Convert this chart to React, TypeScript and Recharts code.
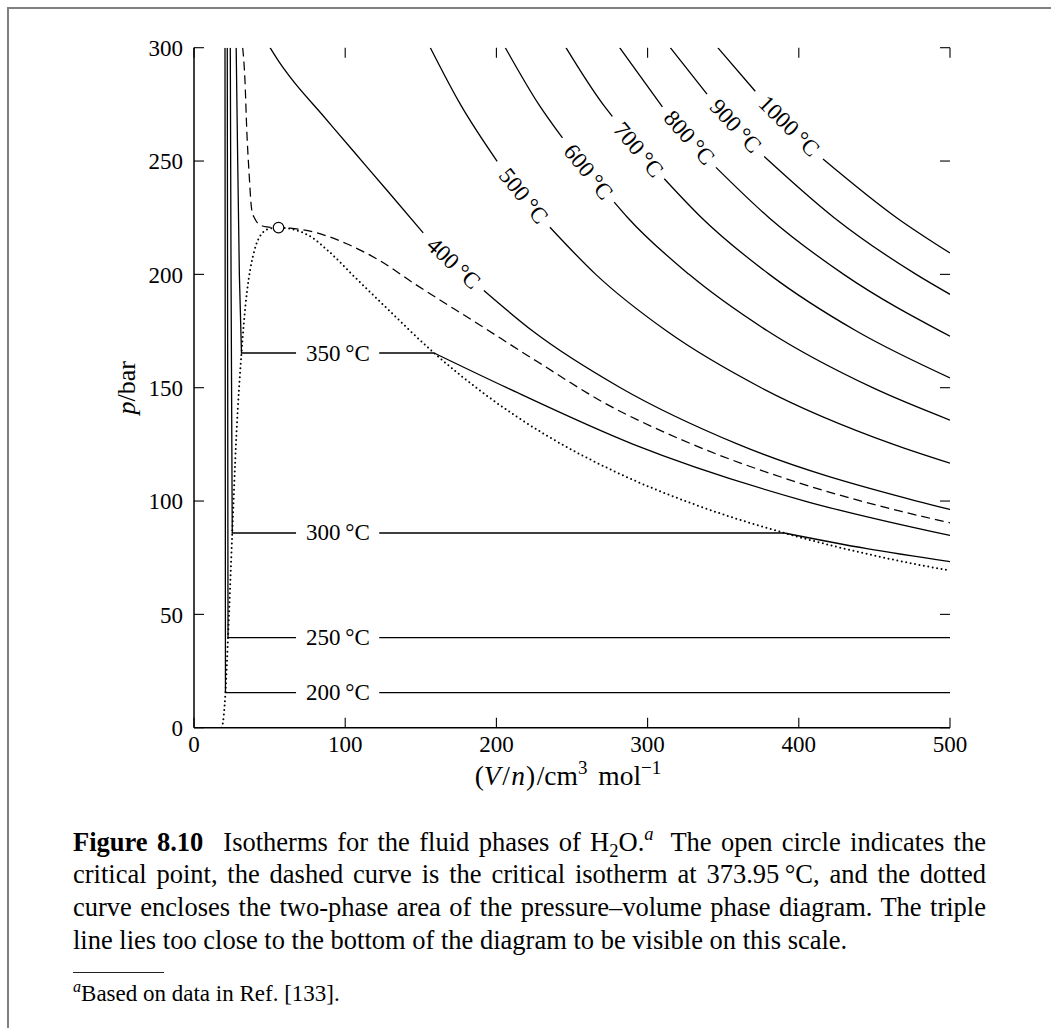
import React from 'react';
import { LineChart, Line, XAxis, YAxis, ReferenceDot } from 'recharts';

type Pt = [number, number | null];

const FONT = '"Liberation Serif", "Times New Roman", Times, serif';

// axes
const volumeTicks = [0, 100, 200, 300, 400, 500];
const pressureTicks = [0, 50, 100, 150, 200, 250, 300];

// [V/(cm3/mol), p/bar]; a null point leaves the gap where the label sits
// subcritical isotherms: compressed liquid + two-phase plateau
const iso200: Pt[] = [[20.5, 300], [20.8, 15.5], [67.5, 15.5], [95, null], [122.5, 15.5], [500, 15.5]];
const iso250: Pt[] = [[22.0, 300], [22.5, 39.7], [67.5, 39.7], [95, null], [122.5, 39.7], [500, 39.7]];
const iso300: Pt[] = [[24.0, 300], [24.5, 200], [25.3, 85.9], [67.5, 85.9], [95, null], [122.5, 85.9], [390.4, 85.9]];
const iso350: Pt[] = [[27.9, 300], [28.9, 250], [30.0, 200], [31.4, 165.3], [67.5, 165.3], [95, null], [122.5, 165.3], [158.8, 165.3]];
// superheated vapour branches
const iso300Vap: Pt[] = [[390.4, 85.9], [445, 79], [500, 73.3]];
const iso350Vap: Pt[] = [[158.8, 165.3], [206.8, 150], [290.6, 125], [404, 100], [500, 84.8]];

// critical isotherm, 373.95 C
const isoCrit: Pt[] = [
  [32.2, 300], [33.7, 285.7], [34.9, 263.7], [36.4, 245], [38.2, 228.4], [40.2, 224.6], [42.6, 222.3],
  [48.1, 220.9], [55.9, 220.64], [63.6, 220.4], [79, 218.7], [101, 213.5], [123, 206], [145.5, 196],
  [188.2, 178], [227.5, 161.3], [272.2, 143], [321.9, 127.2], [401.1, 107.8], [468.5, 95.3], [500, 90.4],
];

// supercritical isotherms
const iso400: Pt[] = [[50.3, 300], [56.5, 293.5], [63.6, 287], [85, 270.3], [105.5, 254.3], [127.6, 237.1], [151.6, 218.3], [171.7, null], [191.7, 192.9], [224, 175], [282, 150], [360, 125], [478, 100], [500, 96.3]];
const iso500: Pt[] = [[156.3, 300], [176.2, 275], [200.5, 249.9], [218, null], [235.4, 220.8], [265.7, 200], [312.6, 175], [375.1, 150], [462.6, 125], [500, 116.7]];
const iso600: Pt[] = [[205.9, 300], [228, 275], [243.7, 260.2], [260.8, null], [277.9, 231.9], [286.9, 225], [327.4, 200], [379.4, 175], [448.8, 150], [500, 135.7]];
const iso700: Pt[] = [[246, 300], [270.5, 275], [276.7, 269.7], [293.9, null], [311, 242.2], [335.7, 225], [380.5, 200], [438.1, 175], [500, 154.3]];
const iso800: Pt[] = [[281.5, 300], [309.8, 273.9], [327.5, null], [345.2, 247.2], [380.3, 225], [429.7, 200], [500, 172.7]];
const iso900: Pt[] = [[315, 300], [339.3, 279.5], [358.2, null], [377.1, 252], [423.4, 225], [477.6, 200], [500, 191.2]];
const iso1000: Pt[] = [[346.4, 300], [371.2, 280.8], [393.6, null], [416, 250.9], [464.7, 225], [500, 209.4]];

// boundary of the two-phase region (saturated liquid -> critical point -> saturated vapour)
const coexistence: Pt[] = [
  [18.2, 0], [18.8, 1], [19.6, 4.8], [20.8, 15.5], [22.5, 39.7], [25.3, 85.9], [28.0, 128.6], [31.4, 165.3],
  [34.1, 186.7], [36.2, 198.1], [39.9, 210.4], [44.8, 217.9], [50.3, 220.2], [55.9, 220.64], [68, 219.4],
  [78, 216.3], [88.7, 210.4], [106, 199], [125, 186.7], [158.8, 165.3], [194.6, 146], [234, 128.6],
  [279, 112.8], [330.6, 98.6], [390.4, 85.9], [460.6, 74.4], [500, 69.3],
];

const criticalPoint = { v: 55.9, p: 220.64 };

// isotherm labels (temperature in C) at the middle of each gap
const isoLabels = [
  { t: 200, v: 95.2, p: 15.5 },
  { t: 250, v: 95.2, p: 39.7 },
  { t: 300, v: 95.2, p: 85.9 },
  { t: 350, v: 95.2, p: 165.3 },
  { t: 400, v: 171.7, p: 204.9 },
  { t: 500, v: 218, p: 234.6 },
  { t: 600, v: 260.8, p: 245.2 },
  { t: 700, v: 293.9, p: 255.0 },
  { t: 800, v: 327.5, p: 260.3 },
  { t: 900, v: 358.2, p: 265.4 },
  { t: 1000, v: 393.6, p: 265.4 },
];
// label rotation in degrees, following the curve on screen
const labelAngle: Record<number, number> = { 400: 43.3, 500: 51.3, 600: 51.1, 700: 50.2, 800: 48.5, 900: 47.5, 1000: 45 };

// plot geometry (px)
const PLOT_W = 756;
const PLOT_H = 680;
const TICK = 10;
const X_LABEL_GAP = 8.3;
const Y_LABEL_GAP = 11;

const rows = (pts: Pt[]) => pts.map(([v, p]) => ({ v, p }));

function curve(key: string, pts: Pt[], type: 'linear' | 'monotone', style: 'solid' | 'dash' | 'dot' = 'solid') {
  return (
    <Line
      key={key}
      data={rows(pts)}
      dataKey="p"
      type={type}
      stroke="#000"
      strokeWidth={style === 'dot' ? 2 : style === 'dash' ? 1.25 : 1.3}
      strokeDasharray={style === 'dot' ? '0 4.5' : style === 'dash' ? '9 5' : undefined}
      strokeLinecap={style === 'dot' ? 'round' : 'butt'}
      dot={false}
      activeDot={false}
      connectNulls={false}
      legendType="none"
      isAnimationActive={false}
    />
  );
}

// bottom tick: inward mark on the bottom and top frame + the number
function VolumeTick({ x, y, payload }: any) {
  const base = y - X_LABEL_GAP;
  const top = base - PLOT_H;
  return (
    <g>
      <line x1={x} x2={x} y1={base - TICK} y2={base} stroke="#000" strokeWidth={1.1} />
      <line x1={x} x2={x} y1={top} y2={top + TICK} stroke="#000" strokeWidth={1.1} />
      <text x={x} y={y} dy="0.71em" textAnchor="middle" fontFamily={FONT} fontSize={23} fill="#000">
        {payload.value}
      </text>
    </g>
  );
}

// left tick: inward mark on the left and right frame + the number
function PressureTick({ x, y, payload }: any) {
  const left = x + Y_LABEL_GAP;
  const right = left + PLOT_W;
  return (
    <g>
      <line x1={left} x2={left + TICK} y1={y} y2={y} stroke="#000" strokeWidth={1.1} />
      <line x1={right - TICK} x2={right} y1={y} y2={y} stroke="#000" strokeWidth={1.1} />
      <text x={x} y={y} dy="0.355em" textAnchor="end" fontFamily={FONT} fontSize={23} fill="#000">
        {payload.value}
      </text>
    </g>
  );
}

function XTitle({ viewBox }: any) {
  const vb = viewBox ?? { x: 185, y: 718.7, width: 756, height: 60 };
  const x = vb.x + vb.width / 2 - 4;
  const y = vb.y + 57;
  return (
    <text x={x} y={y} textAnchor="middle" fontFamily={FONT} fontSize={27.5} fill="#000">
      (<tspan fontStyle="italic">V</tspan>
      <tspan dx={1.5}>/</tspan>
      <tspan dx={1.5} fontStyle="italic">n</tspan>
      <tspan dx={1}>)</tspan>
      <tspan dx={1.5}>/cm</tspan>
      <tspan dy={-11} fontSize={19}>3</tspan>
      <tspan dy={11} dx={4}>{' mol'}</tspan>
      <tspan dy={-11} fontSize={19}>{'\u22121'}</tspan>
    </text>
  );
}

function YTitle({ viewBox }: any) {
  const vb = viewBox ?? { x: 0, y: 38.7, width: 185, height: 680 };
  const x = vb.x + 126;
  const y = vb.y + vb.height / 2;
  return (
    <text x={x} y={y} transform={`rotate(-90 ${x} ${y})`} textAnchor="middle" fontFamily={FONT} fontSize={26} fill="#000">
      <tspan fontStyle="italic">p</tspan>/bar
    </text>
  );
}

function IsoText({ cx, cy, t }: { cx: number; cy: number; t: number }) {
  const a = labelAngle[t] ?? 0;
  return (
    <text
      x={cx}
      y={cy}
      transform={a ? `rotate(${a} ${cx} ${cy})` : undefined}
      textAnchor="middle"
      dominantBaseline="central"
      fontFamily={FONT}
      fontSize={23}
      fill="#000"
    >
      {`${t}\u2009°C`}
    </text>
  );
}

const axisLine = { stroke: '#000', strokeWidth: 1.5 };

function Chart() {
  return (
    <LineChart width={1035} height={800} margin={{ top: 38.7, right: 94, bottom: 21.3, left: 0 }}>
      <XAxis
        dataKey="v"
        type="number"
        domain={[0, 500]}
        ticks={volumeTicks}
        interval={0}
        allowDataOverflow
        height={60}
        tickSize={0}
        tickMargin={X_LABEL_GAP}
        axisLine={axisLine}
        tickLine={false}
        tick={<VolumeTick />}
        label={(p: any) => <XTitle viewBox={p.viewBox} />}
      />
      <YAxis
        type="number"
        domain={[0, 300]}
        ticks={pressureTicks}
        interval={0}
        allowDataOverflow
        width={185}
        tickSize={0}
        tickMargin={Y_LABEL_GAP}
        axisLine={axisLine}
        tickLine={false}
        tick={<PressureTick />}
        label={(p: any) => <YTitle viewBox={p.viewBox} />}
      />
      {/* top and right sides of the frame */}
      <XAxis xAxisId="top" orientation="top" type="number" domain={[0, 500]} allowDataOverflow height={0} mirror axisLine={axisLine} tickLine={false} tick={false} />
      <YAxis yAxisId="right" orientation="right" type="number" domain={[0, 300]} allowDataOverflow width={0} mirror axisLine={axisLine} tickLine={false} tick={false} />

      {curve('coex', coexistence, 'monotone', 'dot')}
      {curve('crit', isoCrit, 'monotone', 'dash')}
      {curve('t200', iso200, 'linear')}
      {curve('t250', iso250, 'linear')}
      {curve('t300', iso300, 'linear')}
      {curve('t300v', iso300Vap, 'monotone')}
      {curve('t350', iso350, 'linear')}
      {curve('t350v', iso350Vap, 'monotone')}
      {curve('t400', iso400, 'monotone')}
      {curve('t500', iso500, 'monotone')}
      {curve('t600', iso600, 'monotone')}
      {curve('t700', iso700, 'monotone')}
      {curve('t800', iso800, 'monotone')}
      {curve('t900', iso900, 'monotone')}
      {curve('t1000', iso1000, 'monotone')}

      {isoLabels.map((l) => (
        <ReferenceDot
          key={`lab${l.t}`}
          x={l.v}
          y={l.p}
          r={0}
          shape={(d: any) => <IsoText cx={d.cx} cy={d.cy} t={l.t} />}
        />
      ))}
      <ReferenceDot x={criticalPoint.v} y={criticalPoint.p} r={5.3} fill="#fff" stroke="#000" strokeWidth={1.2} />
    </LineChart>
  );
}

const small = { fontSize: '0.7em', lineHeight: 0 } as const;
const justified = { textAlign: 'justify', textAlignLast: 'justify' } as const;

export default function App() {
  return (
    <div
      style={{
        position: 'absolute',
        left: 7,
        top: 7,
        width: 1044,
        height: 1021,
        boxSizing: 'border-box',
        borderTop: '2px solid #808080',
        borderLeft: '2px solid #808080',
        fontFamily: FONT,
        color: '#000',
      }}
    >
      <div style={{ position: 'absolute', left: 0, top: 0 }}>
        <Chart />
      </div>

      <div style={{ position: 'absolute', left: 64, top: 816.7, width: 913, fontSize: 26.5, lineHeight: '32.8px' }}>
        <div style={justified}>
          <b style={{ marginRight: '0.4em' }}>Figure 8.10</b> Isotherms for the fluid phases of H
          <span style={{ ...small, verticalAlign: '-0.3em' }}>2</span>O.
          <span style={{ ...small, verticalAlign: '0.6em', fontStyle: 'italic' }}>a</span>
          <span style={{ marginLeft: '0.3em' }}> The open circle indicates the</span>
        </div>
        <div style={justified}>
          critical point, the dashed curve is the critical isotherm at 373.95{'\u2009'}°C, and the dotted
        </div>
        <div style={justified}>
          curve encloses the two-phase area of the pressure–volume phase diagram. The triple
        </div>
        <div>line lies too close to the bottom of the diagram to be visible on this scale.</div>
      </div>

      <div style={{ position: 'absolute', left: 64, top: 963, width: 91, borderTop: '1px solid #222' }} />
      <div style={{ position: 'absolute', left: 64, top: 971.4, fontSize: 23, lineHeight: '27px', whiteSpace: 'nowrap' }}>
        <span style={{ ...small, verticalAlign: '0.55em', fontStyle: 'italic' }}>a</span>Based on data in Ref. [133].
      </div>
    </div>
  );
}
